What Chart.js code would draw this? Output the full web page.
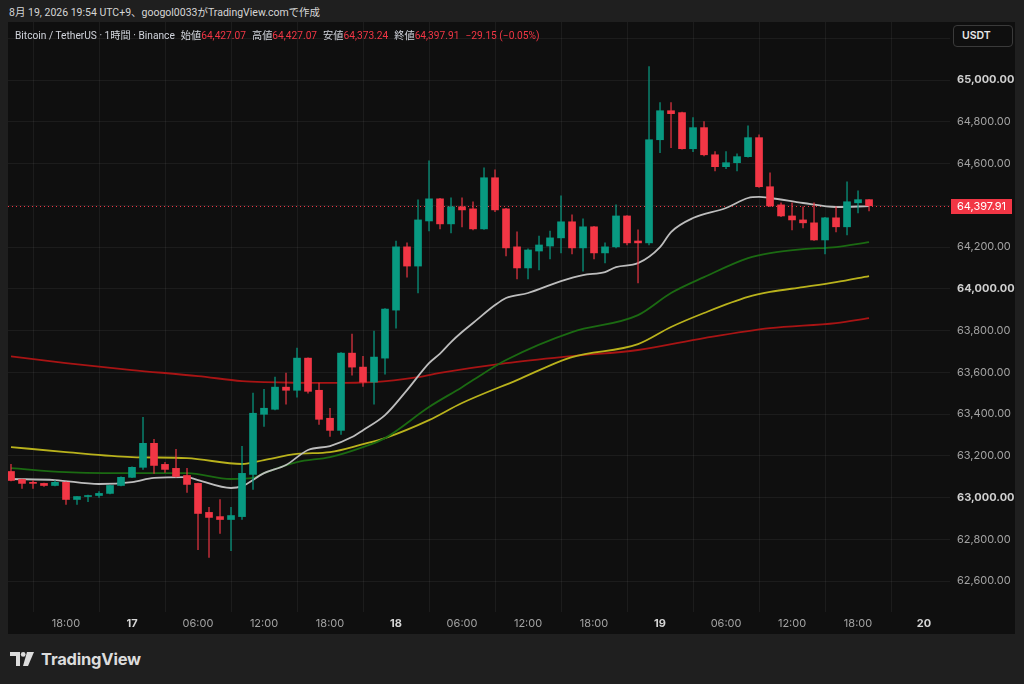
<!DOCTYPE html>
<html lang="ja">
<head>
<meta charset="UTF-8">
<title>Bitcoin / TetherUS 1時間</title>
<style>
  html, body { margin: 0; padding: 0; width: 1024px; height: 684px; overflow: hidden;
    background: #1f1f1f; font-family: Inter, "Noto Sans CJK JP", sans-serif; }
  #header { position: absolute; left: 9px; top: 0; height: 22px; line-height: 25px;
    font-family: Roboto, "Noto Sans CJK JP", sans-serif;
    font-size: 10.5px; color: #d6d6d6; white-space: nowrap; }
  #panel { position: absolute; left: 8px; top: 22px; width: 1007px; height: 612px; background: #0f0f0f; }
  #chart { position: absolute; left: 0; top: 0; }
  #legend { position: absolute; left: 7px; top: 5px; font-family: Roboto, "Noto Sans CJK JP", sans-serif;
    font-size: 10.2px; color: #d1d4dc; white-space: nowrap; }
  #legend .v { color: #f23645; margin-right: 6px; }
  #unit { position: absolute; left: 945px; top: 3px; width: 60px; height: 22px; box-sizing: border-box;
    border: 1px solid #3a3a3a; border-radius: 4px; background: #0f0f0f;
    font-size: 10.5px; font-weight: 600; color: #e6e6e6; line-height: 20px; padding-left: 8px; }
  #logo { position: absolute; left: 10px; top: 649px; display: flex; align-items: center; gap: 7px;
    font-size: 16.5px; font-weight: 700; color: #dcdcdc; letter-spacing: -0.2px; }
</style>
</head>
<body>
<div id="header">8月 19, 2026 19:54 UTC+9、googol0033がTradingView.comで作成</div>
<div id="panel">
  <canvas id="chart" width="1007" height="612"></canvas>
  <div id="legend"></div>
  <div id="unit">USDT</div>
</div>
<div id="logo">
  <svg width="24" height="14" viewBox="0 0 24 14">
    <path d="M0 0h10v14H6V4H0z" fill="#dcdcdc"/>
    <circle cx="13.2" cy="2.4" r="2.4" fill="#dcdcdc"/>
    <path d="M17 0h7l-6 14h-5z" fill="#dcdcdc"/>
  </svg>
  <span>TradingView</span>
</div>

<script src="https://cdn.jsdelivr.net/npm/chart.js"></script>
<script>
// hourly candles, first one is 16th 13:00 (hours counted from 16th 00:00)
const firstHour = 13;
const opens = [63125, 63087, 63073, 63068, 63058, 63073, 62991, 63005, 63010, 63020,
  63058, 63097, 63145, 63260, 63159, 63140, 63106, 63068, 62929, 62909,
  62895, 62909, 63111, 63399, 63423, 63529, 63514, 63668, 63514, 63380,
  63322, 63692, 63625, 63553, 63668, 63898, 64201, 64109, 64325, 64431,
  64311, 64393, 64383, 64287, 64532, 64383, 64201, 64100, 64181, 64205,
  64244, 64321, 64196, 64297, 64172, 64201, 64349, 64229, 64220, 64714,
  64853, 64844, 64671, 64772, 64642, 64585, 64604, 64633, 64724, 64489,
  64402, 64349, 64330, 64316, 64234, 64340, 64297, 64412, 64427.07];
const highs = [63159, 63089, 63082, 63070, 63082, 63075, 63005, 63012, 63029, 63060,
  63099, 63147, 63385, 63279, 63169, 63231, 63140, 63070, 62953, 62991,
  62953, 63245, 63500, 63519, 63577, 63596, 63716, 63670, 63548, 63428,
  63694, 63783, 63677, 63797, 63905, 64229, 64220, 64426, 64613, 64433,
  64436, 64436, 64417, 64580, 64570, 64385, 64273, 64191, 64253, 64277,
  64445, 64354, 64335, 64299, 64220, 64402, 64351, 64282, 65065, 64892,
  64892, 64846, 64820, 64801, 64657, 64657, 64647, 64781, 64738, 64556,
  64412, 64412, 64393, 64412, 64342, 64393, 64513, 64469, 64427.07];
const lows = [63080, 63044, 63044, 63053, 63056, 62967, 62967, 62981, 63001, 63018,
  63056, 63095, 63135, 63116, 63121, 63098, 63025, 62751, 62713, 62828,
  62746, 62895, 63039, 63341, 63420, 63447, 63481, 63500, 63351, 63293,
  63303, 63586, 63533, 63447, 63591, 63812, 64056, 63980, 64277, 64287,
  64268, 64297, 64282, 64285, 64369, 64157, 64047, 64047, 64090, 64143,
  64172, 64167, 64085, 64143, 64124, 64196, 64210, 64028, 64210, 64652,
  64676, 64669, 64657, 64637, 64565, 64575, 64565, 64630, 64486, 64393,
  64345, 64282, 64292, 64232, 64167, 64273, 64258, 64364, 64373.24];
const closes = [63082, 63068, 63068, 63058, 63073, 62991, 63005, 63010, 63020, 63058,
  63097, 63145, 63260, 63154, 63135, 63101, 63063, 62924, 62905, 62895,
  62914, 63116, 63404, 63428, 63529, 63514, 63668, 63509, 63375, 63322,
  63692, 63625, 63553, 63673, 63903, 64201, 64109, 64330, 64431, 64311,
  64393, 64378, 64287, 64532, 64378, 64196, 64100, 64186, 64210, 64244,
  64321, 64196, 64297, 64172, 64201, 64349, 64220, 64220, 64714, 64853,
  64839, 64671, 64772, 64642, 64585, 64604, 64633, 64724, 64489, 64397,
  64349, 64330, 64316, 64234, 64340, 64297, 64417, 64427.06, 64397.91];

// moving averages, read at sample hours
const maFastHours = [13, 17, 21, 24, 26, 29, 30, 33, 34, 36, 38, 40, 42, 44, 45, 47, 49, 51, 52, 53,
  54, 55, 57, 58, 60, 63, 65, 67, 68, 70, 72, 73, 75, 78, 80, 81, 82, 85, 88, 91];
const maFast = [63089, 63084, 63065, 63074, 63094, 63098, 63084, 63046, 63055, 63117,
  63156, 63228, 63247, 63290, 63323, 63395, 63515, 63644, 63690, 63745,
  63793, 63836, 63922, 63956, 63980, 64037, 64066, 64080, 64104, 64123,
  64200, 64272, 64339, 64387, 64435, 64440, 64435, 64411, 64392, 64396];
const maGreenHours = [13, 18, 24, 29, 33, 35, 36, 39, 42, 45, 47, 51, 54, 55, 58, 64, 70, 73, 76, 80, 82, 85, 88, 91];
const maGreen = [63141, 63122, 63117, 63117, 63089, 63094, 63117, 63170, 63194, 63242, 63285, 63434,
  63529, 63563, 63659, 63793, 63874, 63980, 64056, 64147, 64171, 64190, 64200, 64224];
const maYellowHours = [13, 18, 24, 29, 34, 36, 39, 42, 45, 47, 51, 54, 59, 64, 70, 73, 76, 80, 82, 85, 88, 91];
const maYellow = [63242, 63218, 63194, 63189, 63161, 63180, 63209, 63218, 63256, 63285, 63371,
  63453, 63563, 63673, 63735, 63817, 63884, 63961, 63985, 64008, 64032, 64061];
const maRedHours = [13, 18, 24, 30, 34, 36, 42, 46, 50, 52, 58, 64, 70, 76, 82, 88, 91];
const maRed = [63676, 63644, 63611, 63582, 63558, 63553, 63549, 63553, 63577, 63597, 63644,
  63678, 63707, 63764, 63812, 63836, 63860];

// axis ticks
const hourTicks = [18, 24, 30, 36, 42, 48, 54, 60, 66, 72, 78, 84, 90, 96];
const priceTicks = [62600, 62800, 63000, 63200, 63400, 63600, 63800, 64000,
  64200, 64400, 64600, 64800, 65000, 65200];

const UP = '#089981', DOWN = '#f23645';
const UP_WICK = 'rgba(8,153,129,0.75)', DOWN_WICK = 'rgba(242,54,69,0.7)';

const fmt = v => v.toLocaleString('en-US', { minimumFractionDigits: 2, maximumFractionDigits: 2 });

// legend line
const n = closes.length - 1;
const change = closes[n] - closes[n - 1];
const pct = change / closes[n - 1] * 100;
const sign = v => (v < 0 ? '\u2212' : '+') + Math.abs(v).toFixed(2);
document.getElementById('legend').innerHTML =
  '<span style="margin-right:6px">Bitcoin / TetherUS · 1時間 · Binance</span>' +
  '始値<span class="v">' + fmt(opens[n]) + '</span>' +
  '高値<span class="v">' + fmt(highs[n]) + '</span>' +
  '安値<span class="v">' + fmt(lows[n]) + '</span>' +
  '終値<span class="v">' + fmt(closes[n]) + '</span>' +
  '<span class="v">' + sign(change) + ' (' + sign(pct) + '%)</span>';

const hours = opens.map((_, i) => firstHour + i);
const isUp = hours.map((_, i) => closes[i] >= opens[i]);

const toPoints = (xs, ys) => xs.map((x, i) => ({ x: x, y: ys[i] }));
const maLine = (xs, ys, color) => ({
  type: 'line',
  data: toPoints(xs, ys),
  borderColor: color,
  borderWidth: 1.8,
  pointRadius: 0,
  cubicInterpolationMode: 'monotone',
  order: 5
});

const lastPrice = {
  id: 'lastPrice',
  beforeDatasetsDraw(chart) {
    const { ctx, chartArea } = chart;
    const y = chart.scales.y.getPixelForValue(closes[n]);
    ctx.save();
    ctx.strokeStyle = DOWN;
    ctx.lineWidth = 1;
    ctx.setLineDash([1, 3]);
    ctx.beginPath();
    ctx.moveTo(chartArea.left, Math.round(y) + 0.5);
    ctx.lineTo(chartArea.right, Math.round(y) + 0.5);
    ctx.stroke();
    ctx.restore();
  },
  afterDraw(chart) {
    const { ctx, chartArea } = chart;
    const y = Math.round(chart.scales.y.getPixelForValue(closes[n]));
    ctx.save();
    ctx.fillStyle = DOWN;
    ctx.fillRect(chartArea.right + 1, y - 7, 61, 15);
    ctx.fillStyle = '#ffffff';
    ctx.font = '11px Inter, sans-serif';
    ctx.textBaseline = 'middle';
    ctx.fillText(fmt(closes[n]), chartArea.right + 7, y + 0.5);
    ctx.restore();
  }
};

const gridColor = 'rgba(255,255,255,0.055)';

new Chart(document.getElementById('chart'), {
  type: 'bar',
  data: {
    datasets: [
      {
        label: 'body',
        data: hours.map((h, i) => ({ x: h, y: [opens[i], closes[i]] })),
        backgroundColor: isUp.map(u => u ? UP : DOWN),
        barThickness: 7,
        minBarLength: 1,
        grouped: false,
        order: 1
      },
      {
        label: 'wick',
        data: hours.map((h, i) => ({ x: h, y: [lows[i], highs[i]] })),
        backgroundColor: isUp.map(u => u ? UP_WICK : DOWN_WICK),
        barThickness: 1,
        grouped: false,
        order: 2
      },
      maLine(maFastHours, maFast, '#bdbdbd'),
      maLine(maGreenHours, maGreen, '#1b6a12'),
      maLine(maYellowHours, maYellow, '#b9b21c'),
      maLine(maRedHours, maRed, '#a81414')
    ]
  },
  plugins: [lastPrice],
  options: {
    responsive: false,
    animation: false,
    events: [],
    layout: { padding: 0 },
    plugins: { legend: { display: false }, tooltip: { enabled: false } },
    scales: {
      x: {
        type: 'linear',
        min: 12.727,
        max: 98.36,
        offset: false,
        border: { display: false },
        grid: { color: gridColor, drawTicks: false },
        afterFit: s => { s.height = 22; s.paddingLeft = 0; s.paddingRight = 0; },
        afterBuildTicks: s => { s.ticks = hourTicks.map(v => ({ value: v })); },
        ticks: {
          autoSkip: false,
          maxRotation: 0,
          padding: 5,
          callback: v => v % 24 === 0 ? String(16 + v / 24) : String(v % 24).padStart(2, '0') + ':00',
          color: c => c.tick && c.tick.value % 24 === 0 ? '#d6d6d6' : '#a3a3a3',
          font: c => ({ family: 'Inter, sans-serif', size: 11,
            weight: c.tick && c.tick.value % 24 === 0 ? 'bold' : 'normal' })
        }
      },
      y: {
        position: 'right',
        min: 62452,
        max: 65278,
        border: { display: false },
        grid: { color: gridColor, drawTicks: false },
        afterFit: s => { s.width = 65; s.paddingTop = 0; s.paddingBottom = 0; },
        afterBuildTicks: s => { s.ticks = priceTicks.map(v => ({ value: v })); },
        ticks: {
          autoSkip: false,
          padding: 7,
          callback: v => fmt(v),
          color: c => c.tick && c.tick.value % 1000 === 0 ? '#cfcfcf' : '#a3a3a3',
          font: c => ({ family: 'Inter, sans-serif', size: 11,
            weight: c.tick && c.tick.value % 1000 === 0 ? 'bold' : 'normal' })
        }
      }
    }
  }
});
</script>
</body>
</html>
